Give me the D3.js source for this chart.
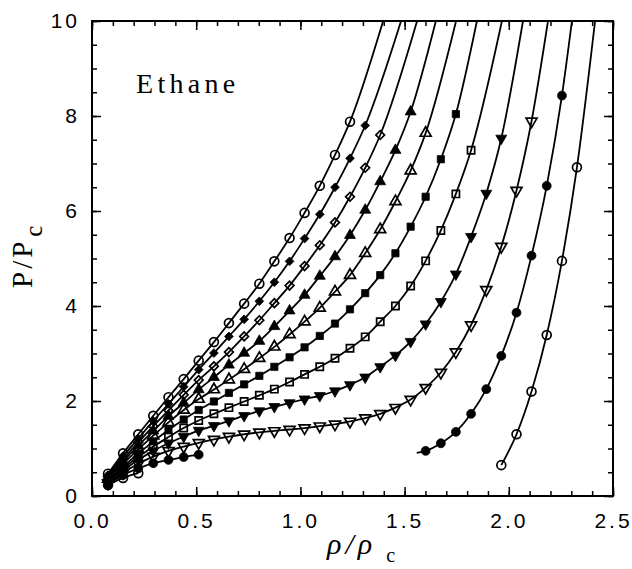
<!DOCTYPE html>
<html>
<head>
<meta charset="utf-8">
<script src="https://cdn.jsdelivr.net/npm/d3@7"></script>
<style>
  body { margin: 0; background: #fff; }
</style>
</head>
<body>
<script>
const width = 632;
const height = 569;

// reduced densities of the simulated points (same grid for every isotherm)
const rho = [0.077, 0.149, 0.222, 0.294, 0.367, 0.440, 0.512, 0.585, 0.657, 0.730,
             0.803, 0.875, 0.948, 1.020, 1.093, 1.166, 1.238, 1.311, 1.383, 1.456,
             1.529, 1.601, 1.674, 1.746, 1.819, 1.892, 1.964, 2.037, 2.109, 2.182,
             2.255, 2.327];

// P/Pc along each isotherm, hottest first (null = no point)
const p1 = [0.47, 0.90, 1.30, 1.69, 2.08, 2.46, 2.85, 3.24, 3.64, 4.05, 4.47, 4.94, 5.43, 5.96, 6.53, 7.18, 7.88];
const p2 = [0.44, 0.84, 1.21, 1.58, 1.94, 2.30, 2.66, 3.01, 3.36, 3.72, 4.10, 4.50, 4.94, 5.42, 5.93, 6.50, 7.11, 7.80];
const p3 = [0.41, 0.78, 1.13, 1.47, 1.80, 2.13, 2.44, 2.73, 3.03, 3.36, 3.70, 4.06, 4.43, 4.84, 5.28, 5.76, 6.30, 6.91, 7.60];
const p4 = [0.39, 0.73, 1.06, 1.37, 1.68, 1.96, 2.24, 2.50, 2.76, 3.01, 3.26, 3.57, 3.90, 4.23, 4.63, 5.04, 5.49, 6.02, 6.62, 7.28, 8.09];
const p5 = [0.36, 0.68, 0.98, 1.27, 1.55, 1.81, 2.04, 2.24, 2.45, 2.67, 2.90, 3.14, 3.40, 3.67, 3.96, 4.30, 4.65, 5.11, 5.61, 6.20, 6.85, 7.64];
const p6 = [0.33, 0.62, 0.89, 1.15, 1.39, 1.61, 1.81, 1.99, 2.17, 2.35, 2.53, 2.72, 2.92, 3.13, 3.37, 3.63, 3.93, 4.27, 4.65, 5.11, 5.67, 6.30, 7.09, 8.04];
const p7 = [0.31, 0.58, 0.82, 1.04, 1.24, 1.43, 1.59, 1.73, 1.86, 1.99, 2.12, 2.25, 2.40, 2.56, 2.72, 2.90, 3.11, 3.35, 3.67, 4.00, 4.42, 4.95, 5.59, 6.36, 7.28];
const p8 = [0.29, 0.54, 0.76, 0.95, 1.11, 1.25, 1.38, 1.48, 1.58, 1.69, 1.79, 1.88, 1.96, 2.04, 2.11, 2.21, 2.34, 2.50, 2.72, 2.96, 3.25, 3.62, 4.09, 4.67, 5.46, 6.37, 7.53];
const p9 = [0.27, 0.49, 0.68, 0.83, 0.95, 1.04, 1.12, 1.19, 1.25, 1.30, 1.34, 1.37, 1.40, 1.43, 1.47, 1.51, 1.57, 1.64, 1.73, 1.86, 2.03, 2.28, 2.60, 3.03, 3.60, 4.34, 5.25, 6.43, 7.89];
const p10 = [0.25, 0.44, 0.58, 0.69, 0.76, 0.82, 0.87, null, null, null, null, null, null, null, null, null, null, null, null, null, null,
             0.95, 1.11, 1.35, 1.73, 2.25, 2.95, 3.86, 5.06, 6.53, 8.43];
const p11 = [0.23, 0.38, 0.48, null, null, null, null, null, null, null, null, null, null, null, null, null, null, null, null, null, null,
             null, null, null, null, null, 0.65, 1.30, 2.20, 3.39, 4.95, 6.92];

const pressures = [p1, p2, p3, p4, p5, p6, p7, p8, p9, p10, p11];

// density where each fitted curve leaves the top of the plot (P/Pc = 10)
const topExit = [1.397, 1.483, 1.56, 1.65, 1.747, 1.847, 1.967, 2.068, 2.188, 2.303, 2.414];
// liquid branch of isotherm 10 starts a little before its first point
const lineStarts = [null, null, null, null, null, null, null, null, null, [1.558, 0.91], null];

const xTicks = [0, 0.5, 1.0, 1.5, 2.0, 2.5];
const yTicks = [0, 2, 4, 6, 8, 10];

// marker style per isotherm
const markers = [
    {shape: "circle", filled: false},
    {shape: "diamond", filled: true},
    {shape: "diamond", filled: false},
    {shape: "up", filled: true},
    {shape: "up", filled: false},
    {shape: "square", filled: true},
    {shape: "square", filled: false},
    {shape: "down", filled: true},
    {shape: "down", filled: false},
    {shape: "circle", filled: true},
    {shape: "circle", filled: false}
];

const x = d3.scaleLinear().domain([0, 2.5]).range([92, 613]);
const y = d3.scaleLinear().domain([0, 10]).range([496, 21]);

const serif = "'Liberation Serif', 'Times New Roman', serif";

let svg = d3.select("body").append("svg")
    .attr("width", width)
    .attr("height", height)
    .style("display", "block")
    .style("background", "#fff");

svg.append("defs").append("clipPath")
    .attr("id", "plot")
    .append("rect")
    .attr("x", x(0))
    .attr("y", y(10))
    .attr("width", x(2.5) - x(0))
    .attr("height", y(0) - y(10));

function runs(ps) {
    let out = [], cur = [];
    ps.forEach((p, i) => {
        if (p == null) {
            if (cur.length) out.push(cur);
            cur = [];
        } else {
            cur.push([rho[i], p]);
        }
    });
    if (cur.length) out.push(cur);
    return out;
}

let line = d3.line()
    .x(d => x(d[0]))
    .y(d => y(d[1]))
    .curve(d3.curveMonotoneX);

let curves = svg.append("g").attr("clip-path", "url(#plot)");

pressures.forEach((ps, i) => {
    let segs = runs(ps);
    let last = segs[segs.length - 1];
    last.push([topExit[i], 10]);
    if (lineStarts[i]) last.unshift(lineStarts[i]);
    segs.forEach(seg => {
        curves.append("path")
            .attr("d", line(seg))
            .attr("fill", "none")
            .attr("stroke", "black")
            .attr("stroke-width", 1.8);
    });
});

function symbolPath(shape) {
    if (shape == "circle") return d3.symbol(d3.symbolCircle, 62)();
    if (shape == "square") return d3.symbol(d3.symbolSquare, 52)();
    if (shape == "diamond") return d3.symbol(d3.symbolSquare, 38)();
    return d3.symbol(d3.symbolTriangle, 52)();
}

function rotation(shape) {
    if (shape == "diamond") return 45;
    if (shape == "down") return 180;
    return 0;
}

let points = svg.append("g");

pressures.forEach((ps, i) => {
    let m = markers[i];
    let pts = ps.map((p, k) => [rho[k], p]).filter(d => d[1] != null);
    points.append("g").selectAll("path")
        .data(pts)
        .enter()
        .append("path")
        .attr("d", symbolPath(m.shape))
        .attr("transform", d => `translate(${x(d[0])},${y(d[1])}) rotate(${rotation(m.shape)})`)
        .attr("fill", m.filled ? "black" : "none")
        .attr("stroke", "black")
        .attr("stroke-width", m.filled ? 0.8 : 1.7);
});

// axes: ticks point inward on all four sides
const xMinor = d3.range(0, 2.501, 0.1);
const yMinor = d3.range(0, 10.01, 0.5);

function styleAxis(g) {
    g.select(".domain").remove();
    g.selectAll(".tick line").attr("stroke", "black").attr("stroke-width", 1.5);
    g.selectAll(".tick text")
        .attr("fill", "black")
        .style("font-family", "'Liberation Sans', Arial, sans-serif")
        .style("font-size", "21px")
        .style("letter-spacing", "3px");
}

svg.append("g")
    .attr("transform", `translate(0,${y(0)})`)
    .call(d3.axisBottom(x).tickValues(xMinor).tickSize(-5).tickFormat(""))
    .call(styleAxis);
svg.append("g")
    .attr("transform", `translate(0,${y(0)})`)
    .call(d3.axisBottom(x).tickValues(xTicks).tickSize(-9).tickPadding(17).tickFormat(d3.format(".1f")))
    .call(styleAxis);
svg.append("g")
    .attr("transform", `translate(0,${y(10)})`)
    .call(d3.axisTop(x).tickValues(xMinor).tickSize(-5).tickFormat(""))
    .call(styleAxis);
svg.append("g")
    .attr("transform", `translate(0,${y(10)})`)
    .call(d3.axisTop(x).tickValues(xTicks).tickSize(-9).tickFormat(""))
    .call(styleAxis);

svg.append("g")
    .attr("transform", `translate(${x(0)},0)`)
    .call(d3.axisLeft(y).tickValues(yMinor).tickSize(-5).tickFormat(""))
    .call(styleAxis);
svg.append("g")
    .attr("transform", `translate(${x(0)},0)`)
    .call(d3.axisLeft(y).tickValues(yTicks).tickSize(-9).tickPadding(12).tickFormat(d3.format("d")))
    .call(styleAxis);
svg.append("g")
    .attr("transform", `translate(${x(2.5)},0)`)
    .call(d3.axisRight(y).tickValues(yMinor).tickSize(-5).tickFormat(""))
    .call(styleAxis);
svg.append("g")
    .attr("transform", `translate(${x(2.5)},0)`)
    .call(d3.axisRight(y).tickValues(yTicks).tickSize(-9).tickFormat(""))
    .call(styleAxis);

svg.append("rect")
    .attr("x", x(0))
    .attr("y", y(10))
    .attr("width", x(2.5) - x(0))
    .attr("height", y(0) - y(10))
    .attr("fill", "none")
    .attr("stroke", "black")
    .attr("stroke-width", 2);

svg.append("text")
    .attr("x", 136)
    .attr("y", 93)
    .style("font-family", serif)
    .style("font-size", "28px")
    .style("letter-spacing", "4.3px")
    .text("Ethane");

// y title, rotated
let yTitle = svg.append("text")
    .attr("transform", "translate(32,288) rotate(-90)")
    .style("font-family", serif)
    .style("font-size", "29px")
    .style("letter-spacing", "3px");
yTitle.append("tspan").text("P/P");
yTitle.append("tspan").attr("dx", 2).attr("dy", 10).style("font-size", "25px").text("c");

// x title
let xTitle = svg.append("text")
    .attr("x", 327)
    .attr("y", 554)
    .style("font-family", serif)
    .style("font-size", "30px")
    .style("letter-spacing", "4px");
xTitle.append("tspan").style("font-style", "italic").text("ρ/ρ");
xTitle.append("tspan").attr("dx", 10).attr("dy", 8).style("font-size", "20px").text("c");
</script>
</body>
</html>
